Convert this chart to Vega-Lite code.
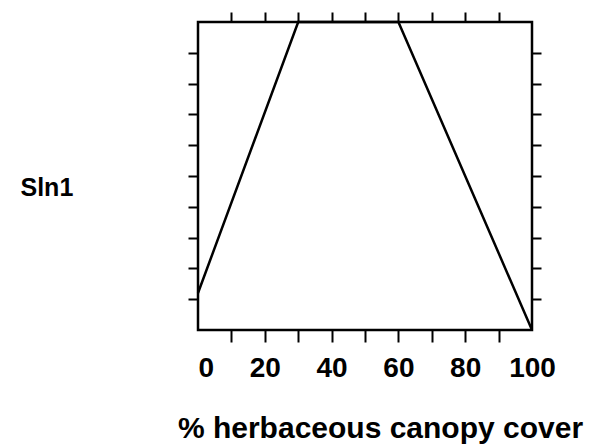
{
  "$schema": "https://vega.github.io/schema/vega-lite/v6.json",
  "width": 334,
  "height": 308,
  "autosize": {"type": "none"},
  "padding": {"left": 198, "top": 22, "right": 62, "bottom": 115},
  "background": "white",
  "config": {
    "view": {"stroke": "black", "strokeWidth": 2.5},
    "axis": {"grid": false, "domain": false, "tickColor": "black", "tickWidth": 2, "labelColor": "black", "titleColor": "black"}
  },
  "data": {
    "values": [
      {"cover": 0, "Sln1": 0.12},
      {"cover": 30, "Sln1": 1},
      {"cover": 60, "Sln1": 1},
      {"cover": 100, "Sln1": 0}
    ]
  },
  "layer": [
    {
      "mark": {"type": "line", "color": "black", "strokeWidth": 2.5},
      "encoding": {
        "x": {
          "field": "cover",
          "type": "quantitative",
          "scale": {"domain": [0, 100], "nice": false, "zero": false},
          "axis": {
            "orient": "bottom",
            "values": [0, 10, 20, 30, 40, 50, 60, 70, 80, 90, 100],
            "labelExpr": "datum.value % 20 == 0 ? datum.label : ''",
            "tickSize": 12,
            "tickOpacity": {"condition": {"test": "datum.value == 0 || datum.value == 100", "value": 0}, "value": 1},
            "labelAlign": {"condition": {"test": "datum.value == 0", "value": "left"}, "value": "center"},
            "labelFlush": false,
            "labelOverlap": false,
            "labelBound": false,
            "labelBaseline": "alphabetic",
            "labelPadding": 34,
            "labelFont": "Liberation Sans",
            "labelFontWeight": "bold",
            "labelFontSize": 28,
            "title": "% herbaceous canopy cover",
            "titleFont": "Liberation Sans",
            "titleFontWeight": "bold",
            "titleFontSize": 30,
            "titleAlign": "center",
            "titleBaseline": "alphabetic",
            "titleX": 182,
            "titleY": 107
          }
        },
        "y": {
          "field": "Sln1",
          "type": "quantitative",
          "scale": {"domain": [0, 1], "nice": false},
          "axis": {
            "orient": "left",
            "values": [0.1, 0.2, 0.3, 0.4, 0.5, 0.6, 0.7, 0.8, 0.9],
            "labels": false,
            "tickSize": 10,
            "title": "Sln1",
            "titleFont": "Liberation Sans",
            "titleFontWeight": "bold",
            "titleFontSize": 25,
            "titleAngle": 0,
            "titleAlign": "left",
            "titleBaseline": "alphabetic",
            "titleX": -178,
            "titleY": 173
          }
        }
      }
    },
    {
      "mark": {"type": "line", "opacity": 0},
      "encoding": {
        "x": {
          "field": "cover",
          "type": "quantitative",
          "axis": {
            "orient": "top",
            "values": [10, 20, 30, 40, 50, 60, 70, 80, 90],
            "labels": false,
            "tickSize": 10,
            "title": null
          }
        },
        "y": {
          "field": "Sln1",
          "type": "quantitative",
          "axis": {
            "orient": "right",
            "values": [0.1, 0.2, 0.3, 0.4, 0.5, 0.6, 0.7, 0.8, 0.9],
            "labels": false,
            "tickSize": 9,
            "title": null
          }
        }
      }
    }
  ],
  "resolve": {"axis": {"x": "independent", "y": "independent"}}
}
